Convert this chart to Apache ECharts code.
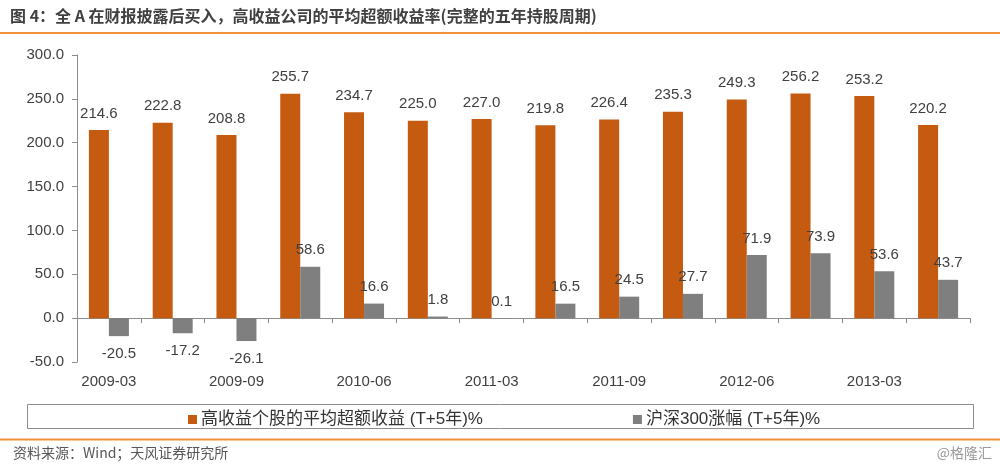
<!DOCTYPE html>
<html>
<head>
<meta charset="utf-8">
<script src="https://cdn.jsdelivr.net/npm/echarts@6/dist/echarts.min.js"></script>
<style>
html,body{margin:0;padding:0;background:#fff;}
#main{width:1000px;height:470px;}
</style>
</head>
<body>
<div id="main"></div>
<script>
var categories = ['2009-03','2009-06','2009-09','2010-03','2010-06','2010-09','2011-03','2011-06','2011-09','2012-03','2012-06','2012-09','2013-03','2013-06'];
var highReturn = [214.6,222.8,208.8,255.7,234.7,225.0,227.0,219.8,226.4,235.3,249.3,256.2,253.2,220.2];
var hs300 = [-20.5,-17.2,-26.1,58.6,16.6,1.8,0.1,16.5,24.5,27.7,71.9,73.9,53.6,43.7];
var seriesNames = ['高收益个股的平均超额收益 (T+5年)%','沪深300涨幅 (T+5年)%'];
var titleText = '图 4：全 A 在财报披露后买入，高收益公司的平均超额收益率(完整的五年持股周期)';
var sourceText = '资料来源：Wind；天风证券研究所';
var watermark = '@格隆汇';

var FONT = '"Liberation Sans", Arial, "Noto Sans CJK SC", sans-serif';
var chart = echarts.init(document.getElementById('main'));

var hsData = hs300.map(function(v){
  return v < 0 ? {value: v, label: {position: 'bottom', distance: 10}} : v;
});

var option = {
  backgroundColor: '#fff',
  animation: false,
  textStyle: {fontFamily: FONT},
  grid: {left: 77, right: 30, top: 55, bottom: 108, containLabel: false},
  legend: {
    top: 406,
    left: 183,
    itemGap: 150,
    itemWidth: 9,
    itemHeight: 9,
    icon: 'rect',
    textStyle: {fontSize: 17, color: '#333', fontFamily: FONT, padding: [0,0,0,-1]},
    data: seriesNames
  },
  xAxis: [
    {
      type: 'category',
      data: categories,
      position: 'bottom',
      axisLine: {show: false, onZero: false},
      axisTick: {show: false},
      axisLabel: {interval: 1, color: '#404040', fontSize: 15, margin: 12, fontFamily: FONT}
    },
    {
      type: 'category',
      data: categories,
      position: 'bottom',
      axisLine: {show: true, onZero: true, onZeroAxisIndex: 0, lineStyle: {color: '#8c8c8c', width: 1}},
      axisTick: {show: true, length: 5, inside: false, lineStyle: {color: '#8c8c8c'}},
      axisLabel: {show: false}
    }
  ],
  yAxis: {
    type: 'value',
    min: -50,
    max: 300,
    interval: 50,
    axisLine: {show: true, lineStyle: {color: '#8c8c8c'}},
    axisTick: {show: true, length: 5, lineStyle: {color: '#8c8c8c'}},
    splitLine: {show: false},
    axisLabel: {
      color: '#404040', fontSize: 15, margin: 13, fontFamily: FONT,
      formatter: function(v){ return v.toFixed(1); }
    }
  },
  series: [
    {
      name: seriesNames[0],
      type: 'bar',
      xAxisIndex: 0,
      data: highReturn,
      barWidth: 20,
      barGap: '0%',
      itemStyle: {color: '#C55A11'},
      label: {
        show: true, position: 'top', distance: 9, color: '#404040', fontSize: 15, fontFamily: FONT,
        formatter: function(p){ return Number(p.value).toFixed(1); }
      }
    },
    {
      name: seriesNames[1],
      type: 'bar',
      xAxisIndex: 0,
      data: hsData,
      barWidth: 20,
      barGap: '0%',
      itemStyle: {color: '#7F7F7F'},
      label: {
        show: true, position: 'top', distance: 9, color: '#404040', fontSize: 15, fontFamily: FONT,
        formatter: function(p){ return Number(p.value).toFixed(1); }
      }
    }
  ],
  graphic: [
    {type: 'text', left: 10, top: 8, style: {text: titleText, font: 'bold 16px "Noto Sans CJK SC", sans-serif', fill: '#404040'}},
    {type: 'line', shape: {x1: 0, y1: 33, x2: 1000, y2: 33}, style: {stroke: '#F0913A', lineWidth: 2}},
    {type: 'rect', shape: {x: 27.5, y: 404.5, width: 946, height: 24}, style: {fill: 'none', stroke: '#8c8c8c', lineWidth: 1}, z: -1},
    {type: 'line', shape: {x1: 0, y1: 439.5, x2: 1000, y2: 439.5}, style: {stroke: '#F0913A', lineWidth: 2}},
    {type: 'text', left: 13, top: 446, style: {text: sourceText, font: '14px "Noto Sans CJK SC", sans-serif', fill: '#555'}},
    {type: 'text', right: 8, top: 446, style: {text: watermark, font: '14px "Noto Sans CJK SC", sans-serif', fill: '#999'}}
  ]
};
chart.setOption(option);
</script>
</body>
</html>
